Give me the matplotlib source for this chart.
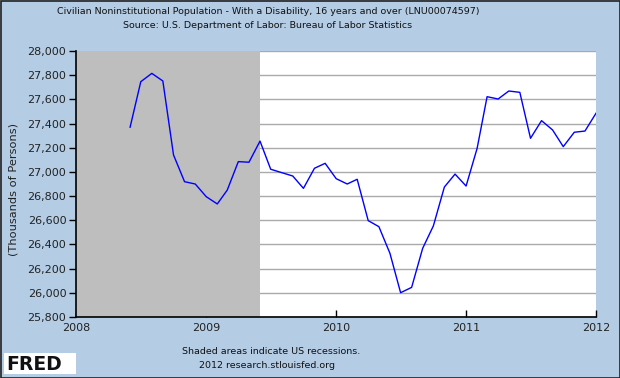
import pandas as pd
import matplotlib
matplotlib.use("Agg")
import matplotlib.pyplot as plt
import matplotlib.dates as mdates
from matplotlib.ticker import FuncFormatter, FixedLocator
from matplotlib.patches import Rectangle

# ---- Data (thousands of persons, monthly) ----
dates = pd.date_range("2008-06-01", "2012-01-01", freq="MS")
values = [27370, 27746, 27815, 27752, 27140, 26919, 26900,
          26795, 26735, 26850, 27085, 27080, 27255, 27022, 26994, 26966, 26864, 27030, 27071,
          26944, 26900, 26939, 26597, 26547, 26327, 26001, 26045, 26368, 26553, 26875, 26982,
          26883, 27195, 27622, 27603, 27669, 27658, 27278, 27424, 27347, 27209, 27328, 27338,
          27485]
rec_start = pd.Timestamp("2007-12-01")
rec_end = pd.Timestamp("2009-06-01")
yticks = list(range(25800, 28001, 200))
xticks = pd.to_datetime(["2008-01-01", "2009-01-01", "2010-01-01", "2011-01-01", "2012-01-01"])

bg = "#b4cde5"
W, H = 620, 378

fig = plt.figure(figsize=(6.2, 3.78), dpi=100, facecolor=bg)
fig.patches.append(Rectangle((0.5 / W, 0.5 / H), 1 - 1 / W, 1 - 1 / H, transform=fig.transFigure,
                             fill=False, edgecolor="#222222", linewidth=1.2))

ax = fig.add_axes([76 / W, (H - 317) / H, (596 - 76) / W, (317 - 51) / H])
ax.set_facecolor("white")

ax.axvspan(rec_start, rec_end, color="#bebebe", zorder=1, lw=0)
ax.plot(dates, values, color="#0000ff", lw=1.0, zorder=3)

ax.set_xlim(pd.Timestamp("2008-01-01"), pd.Timestamp("2012-01-01"))
ax.set_ylim(25800, 28000)
ax.yaxis.set_major_locator(FixedLocator(yticks))
ax.yaxis.set_major_formatter(FuncFormatter(lambda v, p: f"{int(v):,}"))
ax.set_xticks(xticks)
ax.xaxis.set_major_formatter(mdates.DateFormatter("%Y"))

ax.set_axisbelow(True)
ax.grid(axis="y", color="#aaaaaa", lw=1.0, zorder=0.5)
for s in ["top", "right"]:
    ax.spines[s].set_visible(False)
for s in ["left", "bottom"]:
    ax.spines[s].set_color("black")
    ax.spines[s].set_linewidth(1.2)

ax.tick_params(axis="y", direction="out", length=5, width=1, pad=2, labelsize=8, labelcolor="#222222")
ax.tick_params(axis="x", direction="in", length=5, width=1, pad=4, labelsize=8, labelcolor="#222222")
ax.set_ylabel("(Thousands of Persons)", fontsize=8.2, color="#222222")
ax.yaxis.set_label_coords(-0.110, 0.481)

# ---- Titles and footer ----
tfs = 6.8
fig.text(268 / W, 1 - 12 / H, "Civilian Noninstitutional Population - With a Disability, 16 years and over (LNU00074597)",
         ha="center", va="center", fontsize=tfs, color="#111111")
fig.text(268 / W, 1 - 26 / H, "Source: U.S. Department of Labor: Bureau of Labor Statistics",
         ha="center", va="center", fontsize=tfs, color="#111111")
fig.text(271 / W, 1 - 351 / H, "Shaded areas indicate US recessions.",
         ha="center", va="center", fontsize=tfs, color="#111111")
fig.text(267 / W, 1 - 365 / H, "2012 research.stlouisfed.org",
         ha="center", va="center", fontsize=tfs, color="#111111")

# FRED logo box
fig.patches.append(Rectangle((4 / W, 1 - 374 / H), 72 / W, 21 / H, transform=fig.transFigure,
                             facecolor="white", edgecolor="none"))
fig.text(6 / W, 1 - 364 / H, "FRED", ha="left", va="center", fontsize=13.5,
         fontweight="heavy", color="#111111")

fig.savefig("out.png", dpi=100, facecolor=bg)
